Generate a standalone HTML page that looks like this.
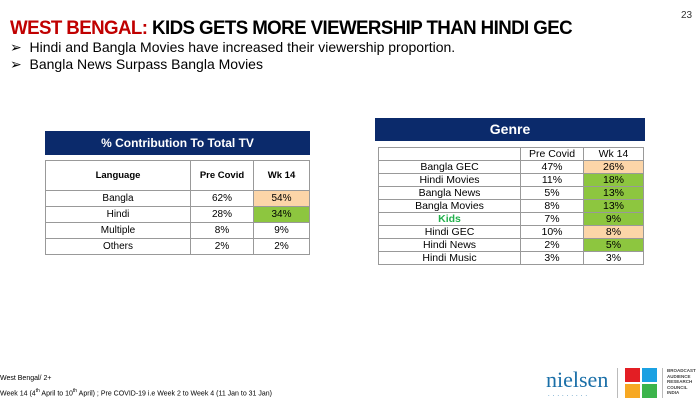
<!DOCTYPE html>
<html><head><style>
body{margin:0;width:700px;height:402px;background:#fff;position:relative;font-family:"Liberation Sans",sans-serif;overflow:hidden}
.a{position:absolute}
table{border-collapse:collapse;position:absolute;font-size:10px;text-align:center}
td{border:1px solid #999;padding:0}
.gt td{height:12px;line-height:12px;font-size:10.5px}
.o{background:#fcd5a8}.g{background:#8dc63f}
</style></head><body>
<div class="a" style="left:681px;top:10px;font-size:10px;color:#333">23</div>
<div class="a" style="left:10px;top:18px;font-size:19px;font-weight:bold;letter-spacing:-0.6px;white-space:nowrap;transform:scaleX(0.985);transform-origin:0 0"><span style="color:#c00000">WEST BENGAL:</span> KIDS GETS MORE VIEWERSHIP THAN HINDI GEC</div>
<div class="a" style="left:10px;top:39px;font-size:14px;white-space:nowrap">➢&nbsp;&nbsp;Hindi and Bangla Movies have increased their viewership proportion.</div>
<div class="a" style="left:10px;top:56px;font-size:14px;white-space:nowrap">➢&nbsp;&nbsp;Bangla News Surpass Bangla Movies</div>

<div class="a" style="left:45px;top:131px;width:265px;height:24px;background:#0b2a6b;color:#fff;font-weight:bold;font-size:12px;text-align:center;line-height:24px">% Contribution To Total TV</div>
<table style="left:45px;top:160px;width:265px">
<tr style="height:30px;font-weight:bold;font-size:9.5px"><td style="width:144px">Language</td><td style="width:62px">Pre Covid</td><td>Wk 14</td></tr>
<tr style="height:16px"><td>Bangla</td><td>62%</td><td class="o">54%</td></tr>
<tr style="height:16px"><td>Hindi</td><td>28%</td><td class="g">34%</td></tr>
<tr style="height:16px"><td>Multiple</td><td>8%</td><td>9%</td></tr>
<tr style="height:16px"><td>Others</td><td>2%</td><td>2%</td></tr>
</table>

<div class="a" style="left:375px;top:118px;width:270px;height:23px;background:#0b2a6b;color:#fff;font-weight:bold;font-size:14px;text-align:center;line-height:23px">Genre</div>
<table class="gt" style="left:378px;top:147px;width:266px">
<tr><td style="width:141px"></td><td style="width:62px">Pre Covid</td><td>Wk 14</td></tr>
<tr><td>Bangla GEC</td><td>47%</td><td class="o">26%</td></tr>
<tr><td>Hindi Movies</td><td>11%</td><td class="g">18%</td></tr>
<tr><td>Bangla News</td><td>5%</td><td class="g">13%</td></tr>
<tr><td>Bangla Movies</td><td>8%</td><td class="g">13%</td></tr>
<tr><td style="color:#22b04b;font-weight:bold">Kids</td><td>7%</td><td class="g">9%</td></tr>
<tr><td>Hindi GEC</td><td>10%</td><td class="o">8%</td></tr>
<tr><td>Hindi News</td><td>2%</td><td class="g">5%</td></tr>
<tr><td>Hindi Music</td><td>3%</td><td>3%</td></tr>
</table>

<div class="a" style="left:0;top:375px;font-size:7px">West Bengal/ 2+</div>
<div class="a" style="left:0;top:388px;font-size:7px;white-space:nowrap">Week 14 (4<sup style="font-size:5px">th</sup> April to 10<sup style="font-size:5px">th</sup> April) ; Pre COVID-19 i.e Week 2 to Week 4 (11 Jan to 31 Jan)</div>

<div class="a" style="left:546px;top:367px;font-family:'Liberation Serif',serif;font-size:22px;color:#1a6fa8">nielsen</div>
<div class="a" style="left:548px;top:392px;font-size:6px;color:#1a6fa8;letter-spacing:3px">.........</div>
<div class="a" style="left:617px;top:368px;width:1px;height:30px;background:#bbb"></div>
<div class="a" style="left:625px;top:368px;width:15px;height:14px;background:#e31e24"></div>
<div class="a" style="left:642px;top:368px;width:15px;height:14px;background:#1ba1e2"></div>
<div class="a" style="left:625px;top:384px;width:15px;height:14px;background:#f7a823"></div>
<div class="a" style="left:642px;top:384px;width:15px;height:14px;background:#3cb44b"></div>
<div class="a" style="left:662px;top:368px;width:1px;height:30px;background:#bbb"></div>
<div class="a" style="left:667px;top:368px;font-size:4.5px;line-height:5.5px;color:#444;font-weight:bold">BROADCAST<br>AUDIENCE<br>RESEARCH<br>COUNCIL<br>INDIA</div>
</body></html>
